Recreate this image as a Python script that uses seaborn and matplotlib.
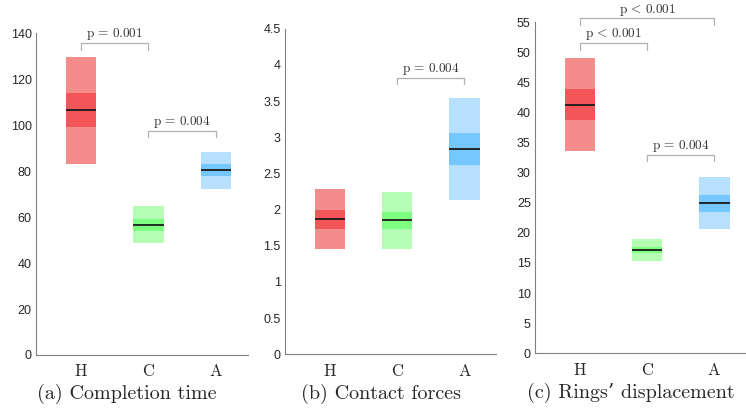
import numpy as np
import pandas as pd
import matplotlib
matplotlib.use("Agg")
import matplotlib.pyplot as plt
import seaborn as sns

sns.set_style("white")
plt.rcParams['font.family'] = ['Liberation Sans', 'DejaVu Sans']
plt.rcParams['mathtext.fontset'] = 'cm'

# groups
groups = ['H', 'C', 'A']

# (a) completion time: low, q1, median, q3, high
time_lo = [83.2, 48.8, 72.4]
time_q1 = [99.3, 54.1, 78.1]
time_med = [106.8, 56.7, 80.6]
time_q3 = [114.1, 59.4, 83.1]
time_hi = [129.9, 64.8, 88.5]

# (b) contact forces
force_lo = [1.46, 1.46, 2.13]
force_q1 = [1.735, 1.73, 2.61]
force_med = [1.87, 1.85, 2.835]
force_q3 = [1.99, 1.965, 3.06]
force_hi = [2.28, 2.24, 3.54]

# (c) rings' displacement
disp_lo = [33.6, 15.4, 20.6]
disp_q1 = [38.8, 16.7, 23.5]
disp_med = [41.2, 17.2, 24.9]
disp_q3 = [43.8, 17.7, 26.3]
disp_hi = [49.0, 19.0, 29.2]

# significance brackets: (group1, group2, bracket height, label)
time_pvals = [('H', 'C', 135.8, r'$\mathrm{p}\,=\,0.001$'),
              ('C', 'A', 97.6, r'$\mathrm{p}\,=\,0.004$')]
force_pvals = [('C', 'A', 3.82, r'$\mathrm{p}\,=\,0.004$')]
disp_pvals = [('H', 'C', 51.5, r'$\mathrm{p}\,<\,0.001$'),
              ('H', 'A', 55.6, r'$\mathrm{p}\,<\,0.001$'),
              ('C', 'A', 33.0, r'$\mathrm{p}\,=\,0.004$')]

light_colors = ['#F48C8C', '#B4FFB4', '#B7E0FF']
dark_colors = ['#F35558', '#7DFF80', '#75C7FF']

panels = [
    dict(lo=time_lo, q1=time_q1, med=time_med, q3=time_q3, hi=time_hi,
         pvals=time_pvals, ylim=140, yticks=np.arange(0, 141, 20),
         title='(a) Completion time', tick_h=2.8, title_x=0.43,
         rect=[0.048, 0.130, 0.284, 0.788]),
    dict(lo=force_lo, q1=force_q1, med=force_med, q3=force_q3, hi=force_hi,
         pvals=force_pvals, ylim=4.5, yticks=np.arange(0, 4.51, 0.5),
         title='(b) Contact forces', tick_h=0.09, title_x=0.455,
         rect=[0.382, 0.1316, 0.283, 0.798]),
    dict(lo=disp_lo, q1=disp_q1, med=disp_med, q3=disp_q3, hi=disp_hi,
         pvals=disp_pvals, ylim=55, yticks=np.arange(0, 56, 5),
         title='(c) Rings\u2019 displacement', tick_h=1.1, title_x=0.455,
         rect=[0.717, 0.134, 0.283, 0.812]),
]

fig = plt.figure(figsize=(7.46, 4.08), dpi=100)
width = 0.45

for p in panels:
    ax = fig.add_axes(p['rect'])
    for i, g in enumerate(groups):
        sns.barplot(x=[g], y=[p['hi'][i] - p['lo'][i]], bottom=p['lo'][i],
                    order=groups, color=light_colors[i], saturation=1,
                    width=width, errorbar=None, ax=ax, linewidth=0)
        sns.barplot(x=[g], y=[p['q3'][i] - p['q1'][i]], bottom=p['q1'][i],
                    order=groups, color=dark_colors[i], saturation=1,
                    width=width, errorbar=None, ax=ax, linewidth=0)
        ax.hlines(p['med'][i], i - width / 2, i + width / 2,
                  color='#1a1a1a', lw=1.3, zorder=5)

    for g1, g2, h, label in p['pvals']:
        x1, x2 = groups.index(g1), groups.index(g2)
        ax.plot([x1, x1, x2, x2], [h - p['tick_h'], h, h, h - p['tick_h']],
                color='#b0b0b0', lw=0.9, clip_on=False)
        ax.annotate(label, ((x1 + x2) / 2, h), xytext=(0, 0.5),
                    textcoords='offset points', ha='center', va='bottom',
                    fontsize=9.5, color='#333333', annotation_clip=False)

    ax.set_xlim(-0.67, 2.47)
    ax.set_ylim(0, p['ylim'])
    ax.set_yticks(p['yticks'])
    ax.set_yticklabels([f'{v:g}' for v in p['yticks']], fontsize=9)
    ax.set_xticks(range(len(groups)))
    ax.set_xticklabels([r'$\mathrm{%s}$' % g for g in groups], fontsize=12)
    ax.tick_params(axis='x', direction='in', length=3, color='#808080',
                   width=0.8, pad=6)
    ax.tick_params(axis='y', length=0, pad=3)
    ax.set_xlabel('')
    ax.set_ylabel('')
    sns.despine(ax=ax)
    for s in ['left', 'bottom']:
        ax.spines[s].set_color('#808080')
        ax.spines[s].set_linewidth(0.8)
    ax.text(p['title_x'], -0.09, p['title'], transform=ax.transAxes,
            ha='center', va='top', fontsize=14.5,
            family=['cmr10', 'DejaVu Serif'])

fig.savefig('out.png', dpi=100)
